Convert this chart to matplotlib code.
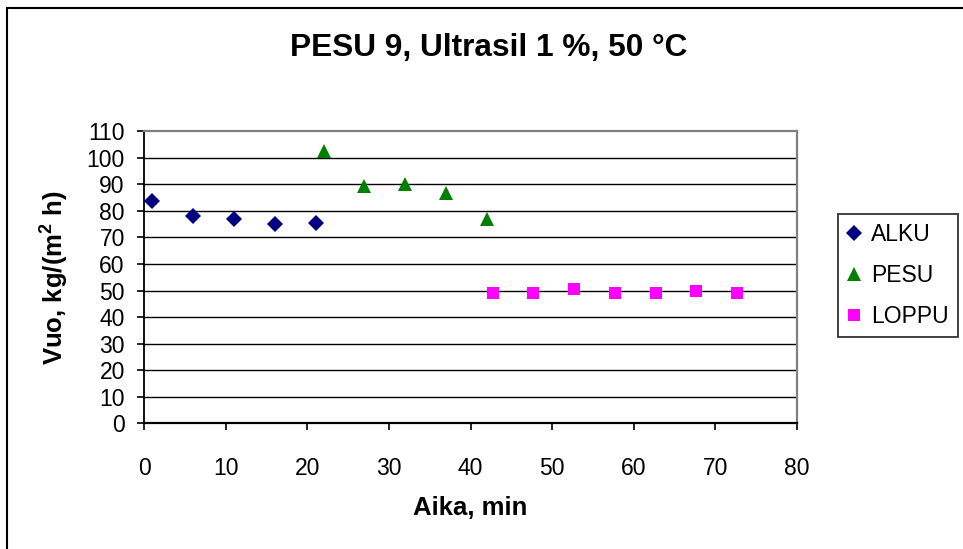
import matplotlib
matplotlib.use("Agg")
import matplotlib.pyplot as plt
from matplotlib.patches import Rectangle

plt.rcParams['font.family'] = ['Liberation Sans', 'DejaVu Sans']
plt.rcParams['mathtext.fontset'] = 'custom'
plt.rcParams['mathtext.rm'] = 'Liberation Sans:bold'
plt.rcParams['mathtext.bf'] = 'Liberation Sans:bold'

title = "PESU 9, Ultrasil 1 %, 50 °C"
xlabel = "Aika, min"
ylabel = r"Vuo, kg/(m$^{2}$ h)"

alku_x = [1, 6, 11, 16, 21]
alku_y = [83.6, 78.2, 76.8, 75.2, 75.3]
pesu_x = [22, 27, 32, 37, 42]
pesu_y = [102.7, 89.5, 90.3, 86.6, 76.8]
loppu_x = [42.7, 47.7, 52.7, 57.7, 62.7, 67.7, 72.7]
loppu_y = [49.0, 49.0, 50.5, 49.0, 49.0, 49.7, 49.0]

xticks = [0, 10, 20, 30, 40, 50, 60, 70, 80]
yticks = [0, 10, 20, 30, 40, 50, 60, 70, 80, 90, 100, 110]

W, H = 963, 549
fig = plt.figure(figsize=(W / 100, H / 100), dpi=100)
fig.patch.set_facecolor('white')

# outer chart border (extends past right/bottom)
fig.patches.append(Rectangle((7 / W, -0.1), 1.2, 1 - 8 / H + 0.1, transform=fig.transFigure,
                             fill=False, edgecolor='black', linewidth=1.5, zorder=0))

ax = fig.add_axes([144.3 / W, 1 - 423.3 / H, (796.7 - 144.3) / W, (423.3 - 131.3) / H])
ax.set_xlim(0, 80)
ax.set_ylim(0, 110)
ax.set_xticks(xticks)
ax.set_yticks(yticks)

for y in yticks[1:-1]:
    ax.axhline(y, color='black', linewidth=1.0, zorder=1)

ax.spines['top'].set_color('#808080')
ax.spines['right'].set_color('#808080')
ax.spines['top'].set_linewidth(1.6)
ax.spines['right'].set_linewidth(1.6)
ax.spines['left'].set_color('black')
ax.spines['bottom'].set_color('black')
ax.spines['left'].set_linewidth(1.3)
ax.spines['bottom'].set_linewidth(1.6)

ax.tick_params(axis='x', direction='out', length=5, width=1.2, pad=19, labelsize=16.5)
ax.tick_params(axis='y', direction='out', length=5, width=1.2, pad=9, labelsize=16.5)

ax.plot(alku_x, alku_y, linestyle='none', marker='D', markersize=8, color='#000080',
        markeredgewidth=0, label='ALKU', zorder=3, clip_on=False)
ax.plot(pesu_x, pesu_y, linestyle='none', marker='^', markersize=10.5, color='#008000',
        markeredgewidth=0, label='PESU', zorder=3, clip_on=False)
ax.plot(loppu_x, loppu_y, linestyle='none', marker='s', markersize=8.3, color='#FF00FF',
        markeredgewidth=0, label='LOPPU', zorder=3, clip_on=False)

ax.set_xlabel(xlabel, fontsize=18.5, fontweight='bold', labelpad=12)
ax.set_ylabel(ylabel, fontsize=18.5, fontweight='bold', labelpad=12)

fig.text(489 / W, 1 - 48 / H, title, fontsize=22.8, fontweight='bold', ha='center', va='center')

leg = fig.legend(loc='center', bbox_to_anchor=(898 / W, 1 - 275.5 / H),
                 bbox_transform=fig.transFigure, fontsize=16.5, frameon=True, fancybox=False,
                 edgecolor='black', handlelength=0.6, handletextpad=0.45, labelspacing=0.78,
                 borderpad=0.4, borderaxespad=0)
leg.get_frame().set_linewidth(1.3)

fig.savefig('out.png', dpi=100, facecolor='white')
